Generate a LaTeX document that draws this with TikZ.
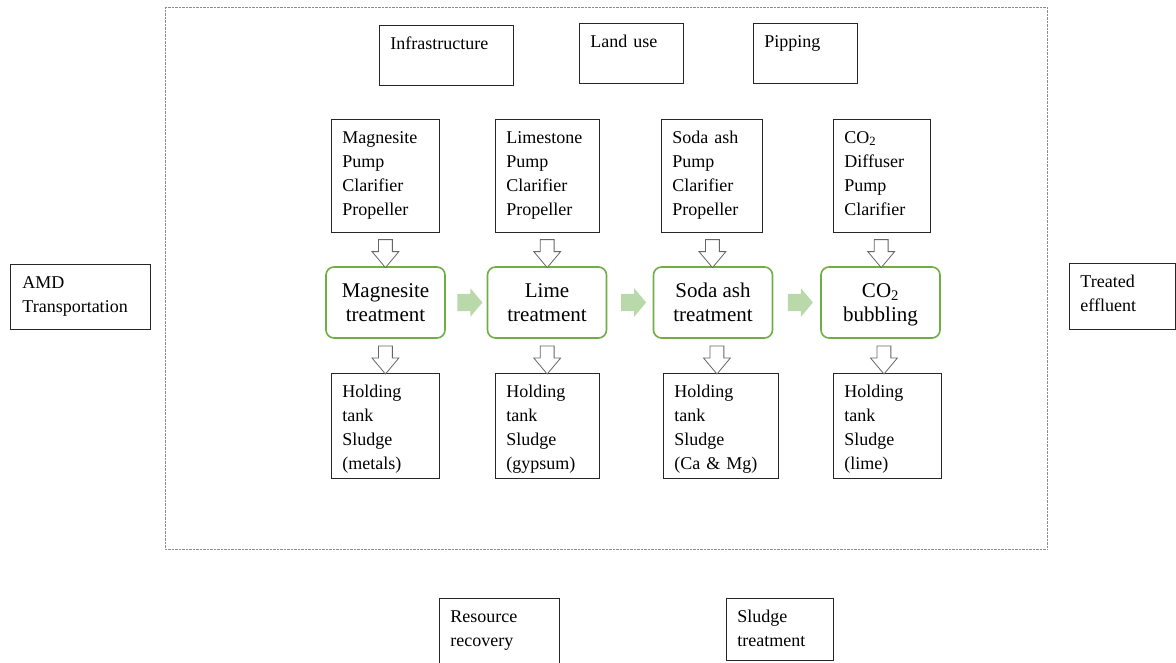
\documentclass[tikz,border=0pt]{standalone}
\usepackage{fontspec}
\setmainfont{Liberation Serif}
\usetikzlibrary{calc,shapes.arrows}

\definecolor{treatgreen}{RGB}{112,173,71}
\definecolor{flowgreen}{RGB}{186,217,170}
\newcommand{\itemfont}{\fontsize{18}{24}\selectfont}
\newcommand{\treatfont}{\fontsize{21}{24}\selectfont}

\begin{document}
\begin{tikzpicture}[x=1pt, y=-1pt,
    box/.style 2 args={draw=black!85, line width=0.8pt, anchor=north west, align=left,
        inner xsep=11pt, inner ysep=0pt, text height=24pt, font=\itemfont,
        text width=#1, text depth=#2},
    treat/.style={draw=treatgreen, line width=1.6pt, rounded corners=8pt, align=center,
        minimum width=119pt, minimum height=71pt, inner sep=0pt, font=\treatfont,
        text height=38pt, text depth=1pt},
    hollowdown/.style={single arrow, draw=black!60, fill=white, line width=0.8pt, rotate=-90,
        minimum height=28pt, single arrow head extend=6.5pt,
        single arrow tip angle=80, inner xsep=0pt, inner ysep=6.5pt},
    flow/.style={single arrow, fill=flowgreen, minimum height=25pt,
        single arrow head extend=5.5pt, single arrow tip angle=100,
        inner xsep=0pt, inner ysep=8.5pt}]
    \useasboundingbox (0,0) rectangle (1176,663);

    % System boundary
    \draw[black!45, line width=0.8pt, dash pattern=on 0.7pt off 0.7pt] (165,7) rectangle (1047,549);

    % Outside the boundary
    \node[box={116pt}{41pt}, inner xsep=12pt] (amd) at (10,264) {AMD\\Transportation};
    \node[box={84pt}{42pt}] (eff) at (1069,263) {Treated\\effluent};
    \node[box={98pt}{42pt}] (res) at (439,598) {Resource\\recovery};
    \node[box={85pt}{38pt}] (sltr) at (726,598) {Sludge\\treatment};

    % Shared inputs
    \node[box={112pt}{36pt}] (infra) at (379,25) {Infrastructure};
    \node[box={82pt}{36pt}] (land) at (579,23) {Land use};
    \node[box={82pt}{36pt}] (pip) at (753,23) {Pipping};

    % Inputs of each stage
    \node[box={86pt}{89pt}] (mgin) at (331,119) {Magnesite\\Pump\\Clarifier\\Propeller};
    \node[box={82pt}{89pt}] (limein) at (495,119) {Limestone\\Pump\\Clarifier\\Propeller};
    \node[box={79pt}{89pt}] (sodain) at (661,119) {Soda ash\\Pump\\Clarifier\\Propeller};
    \node[box={75pt}{89pt}] (coin) at (833,119) {CO\textsubscript{2}\\Diffuser\\Pump\\Clarifier};

    % Treatment stages
    \node[treat] (mgtr) at (385.5,302.5) {Magnesite\\treatment};
    \node[treat] (limetr) at (547,302.5) {Lime\\treatment};
    \node[treat] (sodatr) at (713,302.5) {Soda ash\\treatment};
    \node[treat] (cotr) at (880.5,302.5) {CO\textsubscript{2}\\bubbling};

    % Outputs of each stage
    \node[box={86pt}{81pt}] (mgout) at (331,373) {Holding\\tank\\Sludge\\(metals)};
    \node[box={82pt}{81pt}] (limeout) at (495,373) {Holding\\tank\\Sludge\\(gypsum)};
    \node[box={93pt}{81pt}] (sodaout) at (663,373) {Holding\\tank\\Sludge\\(Ca \& Mg)};
    \node[box={86pt}{81pt}] (coout) at (833,373) {Holding\\tank\\Sludge\\(lime)};

    % Arrows in and out
    \node[hollowdown] (mgdin) at ($(mgin.south)!0.5!(mgtr.north)$) {};
    \node[hollowdown] (limedin) at ($(limein.south)!0.5!(limetr.north)$) {};
    \node[hollowdown] (sodadin) at ($(sodain.south)!0.5!(sodatr.north)$) {};
    \node[hollowdown] (codin) at ($(coin.south)!0.5!(cotr.north)$) {};
    \node[hollowdown] (mgdout) at ($(mgtr.south)!0.5!(mgout.north)$) {};
    \node[hollowdown] (limedout) at ($(limetr.south)!0.5!(limeout.north)$) {};
    \node[hollowdown] (sodadout) at ($(sodatr.south)!0.5!(sodaout.north)$) {};
    \node[hollowdown] (codout) at ($(cotr.south)!0.5!(coout.north)$) {};

    % Flow between stages
    \node[flow] (f1) at ($(mgtr.east)!0.5!(limetr.west)$) {};
    \node[flow] (f2) at ($(limetr.east)!0.5!(sodatr.west)$) {};
    \node[flow] (f3) at ($(sodatr.east)!0.5!(cotr.west)$) {};
\end{tikzpicture}
\end{document}
